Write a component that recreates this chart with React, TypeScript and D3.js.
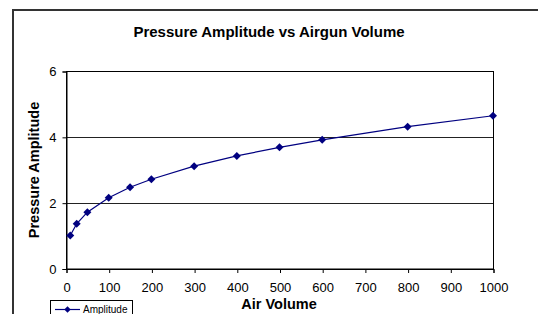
import * as d3 from 'd3';
import React, { useEffect, useRef } from 'react';

const volumes = [10, 25, 50, 100, 150, 200, 300, 400, 500, 600, 800, 1000];
const amplitudes = [1.0, 1.36, 1.71, 2.15, 2.47, 2.71, 3.11, 3.42, 3.68, 3.91, 4.31, 4.64];
const xTicks = [0, 100, 200, 300, 400, 500, 600, 700, 800, 900, 1000];
const yTicks = [0, 2, 4, 6];

const W = 538;
const H = 314;
const FONT = 'Arial, "Liberation Sans", sans-serif';

const diamond = (r: number) => `M0,${-r}L${r},0L0,${r}L${-r},0Z`;

export default function App() {
  const svgRef = useRef<SVGSVGElement>(null);

  useEffect(() => {
    document.body.style.margin = '0';
    const svg = d3.select(svgRef.current);
    svg.selectAll('*').remove();

    const margin = { top: 71, right: 45, bottom: 45, left: 66 };
    const width = W - margin.left - margin.right;
    const height = H - margin.top - margin.bottom - 0.5;

    // chart area border
    svg.append('rect')
      .attr('x', 13).attr('y', 10)
      .attr('width', 600).attr('height', 400)
      .attr('fill', 'white')
      .attr('stroke', '#333')
      .attr('stroke-width', 2);

    svg.append('text')
      .attr('x', 269).attr('y', 37)
      .attr('text-anchor', 'middle')
      .attr('font-family', FONT)
      .attr('font-weight', 'bold')
      .attr('font-size', '15px')
      .text('Pressure Amplitude vs Airgun Volume');

    const g = svg.append('g').attr('transform', `translate(${margin.left},${margin.top})`);

    const x = d3.scaleLinear().domain([0, 1000]).range([0, width]);
    const y = d3.scaleLinear().domain([0, 6]).range([height, 0]);

    // gridlines
    g.selectAll('line.grid')
      .data(yTicks.filter(t => t > 0 && t < 6))
      .enter()
      .append('line')
      .attr('class', 'grid')
      .attr('x1', 0).attr('x2', width)
      .attr('y1', d => Math.round(y(d)) + 0.5)
      .attr('y2', d => Math.round(y(d)) + 0.5)
      .attr('stroke', '#222')
      .attr('stroke-width', 1);

    // plot frame
    g.append('rect')
      .attr('x', 0.5).attr('y', 0.5)
      .attr('width', width).attr('height', height)
      .attr('fill', 'none')
      .attr('stroke', '#000')
      .attr('stroke-width', 1);

    const xAxis = g.append('g')
      .attr('transform', `translate(0.5,${height + 0.5})`)
      .call(d3.axisBottom(x).tickValues(xTicks).tickFormat(d3.format('d')).tickSize(4).tickPadding(10));
    const yAxis = g.append('g')
      .attr('transform', 'translate(0.5,0.5)')
      .call(d3.axisLeft(y).tickValues(yTicks).tickFormat(d3.format('d')).tickSize(4).tickPadding(6));

    [xAxis, yAxis].forEach(a => {
      a.select('.domain').attr('stroke', '#000');
      a.selectAll('.tick line').attr('stroke', '#000');
      a.selectAll('.tick text')
        .attr('font-family', FONT)
        .attr('font-size', '13px')
        .attr('fill', '#000');
    });

    const pts = volumes.map((v, i) => ({ v, a: amplitudes[i] }));

    g.append('path')
      .datum(pts)
      .attr('fill', 'none')
      .attr('stroke', '#000080')
      .attr('stroke-width', 1.2)
      .attr('d', d3.line<{ v: number; a: number }>()
        .x(d => x(d.v))
        .y(d => y(d.a)));

    g.selectAll('path.mark')
      .data(pts)
      .enter()
      .append('path')
      .attr('class', 'mark')
      .attr('transform', d => `translate(${x(d.v)},${y(d.a)})`)
      .attr('d', diamond(4))
      .attr('fill', '#000080');

    // axis titles
    svg.append('text')
      .attr('transform', 'translate(38.5,170) rotate(-90)')
      .attr('text-anchor', 'middle')
      .attr('font-family', FONT)
      .attr('font-weight', 'bold')
      .attr('font-size', '14.5px')
      .text('Pressure Amplitude');

    svg.append('text')
      .attr('x', 279).attr('y', 309)
      .attr('text-anchor', 'middle')
      .attr('font-family', FONT)
      .attr('font-weight', 'bold')
      .attr('font-size', '14.5px')
      .text('Air Volume');

    // legend
    const lg = svg.append('g');
    lg.append('rect')
      .attr('x', 50.5).attr('y', 300.5)
      .attr('width', 82).attr('height', 20)
      .attr('fill', 'white')
      .attr('stroke', '#000')
      .attr('stroke-width', 1);
    lg.append('line')
      .attr('x1', 55).attr('x2', 80)
      .attr('y1', 309.5).attr('y2', 309.5)
      .attr('stroke', '#000080')
      .attr('stroke-width', 1.2);
    lg.append('path')
      .attr('transform', 'translate(67.5,309.5)')
      .attr('d', diamond(3.2))
      .attr('fill', '#000080');
    lg.append('text')
      .attr('x', 83).attr('y', 313)
      .attr('font-family', FONT)
      .attr('font-size', '10px')
      .text('Amplitude');
  }, []);

  return <svg ref={svgRef} width={W} height={H} style={{ display: 'block' }} />;
}
